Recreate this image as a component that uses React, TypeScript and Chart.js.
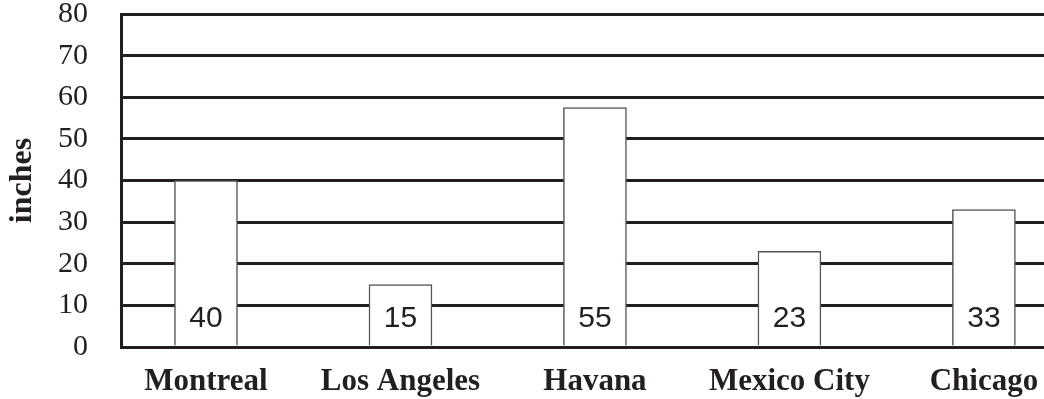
import React, { useEffect, useRef } from "react";
import { Chart, registerables } from "chart.js";

Chart.register(...registerables);

const categories = ["Montreal", "Los Angeles", "Havana", "Mexico City", "Chicago"];
const barHeights = [40, 15, 57.5, 23, 33];
const valueLabels = ["40", "15", "55", "23", "33"];
const yTicks = [0, 10, 20, 30, 40, 50, 60, 70, 80];
const yTitle = "inches";

const INK = "#231f20";

const valueLabelPlugin = {
  id: "valueLabels",
  afterDatasetsDraw(chart: any) {
    const ctx = chart.ctx;
    const meta = chart.getDatasetMeta(0);
    const y0 = chart.scales.y.getPixelForValue(0);
    ctx.save();
    ctx.font = "30px 'Liberation Sans', Arial, sans-serif";
    ctx.fillStyle = INK;
    ctx.textAlign = "center";
    ctx.textBaseline = "middle";
    meta.data.forEach((bar: any, i: number) => {
      ctx.fillText(valueLabels[i], bar.x, y0 - 28);
    });
    ctx.restore();
  },
};

export default function App() {
  const ref = useRef<HTMLCanvasElement>(null);
  useEffect(() => {
    if (!ref.current) return;
    const chart = new Chart(ref.current, {
      type: "bar",
      data: {
        datasets: [
          {
            data: barHeights.map((v, i) => ({ x: i, y: v })) as any,
            backgroundColor: "#ffffff",
            borderColor: "#555555",
            borderWidth: 1.5,
            barThickness: 63,
          },
        ],
      },
      options: {
        responsive: false,
        animation: false,
        layout: { padding: { top: 14, left: 0, right: 0, bottom: 0 } },
        plugins: { legend: { display: false }, tooltip: { enabled: false } },
        scales: {
          x: {
            type: "linear",
            offset: false,
            min: -0.437,
            max: 4.309,
            afterFit: (s: any) => {
              s.height = 52;
              s.paddingLeft = 0;
              s.paddingRight = 0;
              s.paddingTop = 0;
              s.paddingBottom = 0;
            },
            afterBuildTicks: (s: any) => {
              s.ticks = categories.map((_, i) => ({ value: i }));
            },
            grid: { display: false, drawTicks: false, offset: false },
            border: { display: true, color: INK, width: 3 },
            ticks: {
              autoSkip: false,
              maxRotation: 0,
              padding: 16,
              color: INK,
              font: { family: "'Liberation Serif', 'Times New Roman', serif", size: 31, weight: "bold" },
              callback: (v: any) => categories[v] ?? "",
            },
          },
          y: {
            min: 0,
            max: 80,
            afterFit: (s: any) => {
              s.width = 121;
              s.paddingLeft = 0;
              s.paddingRight = 0;
              s.paddingTop = 0;
              s.paddingBottom = 0;
            },
            afterBuildTicks: (s: any) => {
              s.ticks = yTicks.map((v) => ({ value: v }));
            },
            grid: { color: INK, lineWidth: 3, drawTicks: false },
            border: { display: true, color: INK, width: 3 },
            ticks: {
              autoSkip: false,
              padding: 33,
              color: INK,
              font: { family: "'Liberation Serif', 'Times New Roman', serif", size: 30 },
            },
            title: {
              display: true,
              text: yTitle,
              color: INK,
              padding: { top: 4, bottom: 0 },
              font: { family: "'Liberation Serif', 'Times New Roman', serif", size: 32, weight: "bold" },
            },
          },
        },
      },
      plugins: [valueLabelPlugin],
    });
    return () => chart.destroy();
  }, []);
  return (
    <div style={{ position: "absolute", left: 0, top: 0, width: 1044, height: 399, background: "#fff" }}>
      <canvas ref={ref} width={1044} height={399} />
    </div>
  );
}
